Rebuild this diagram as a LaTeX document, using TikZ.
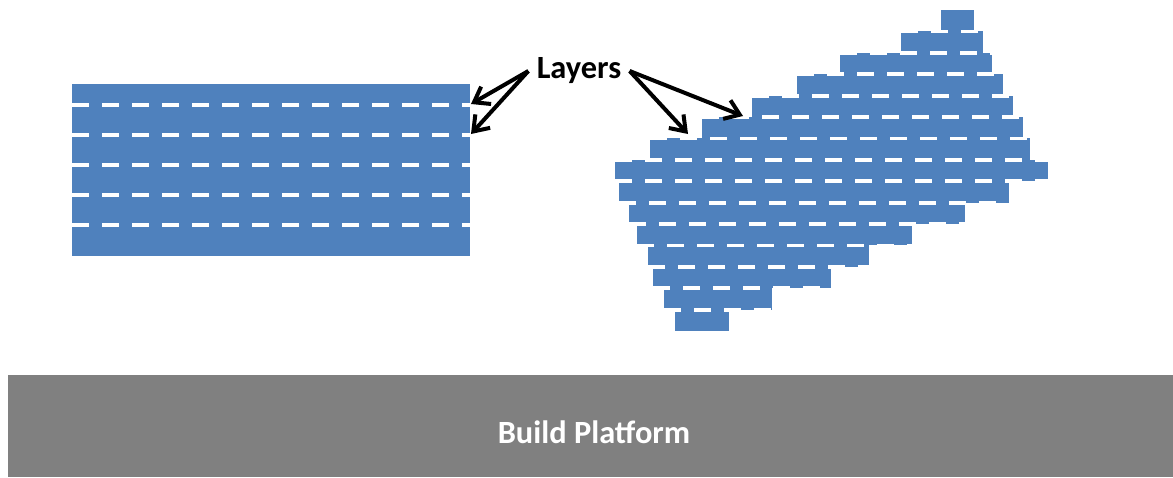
\documentclass[tikz,border=0pt]{standalone}
\usepackage{fontspec}
\setmainfont{Carlito}
\usetikzlibrary{arrows.meta}
\definecolor{layerblue}{HTML}{4F81BD}
\definecolor{platgray}{HTML}{808080}
\tikzset{
  layerline/.style={white, line width=1.9pt, dash pattern=on 8.5pt off 6.5pt},
  pointer/.style={-{Straight Barb[length=7pt,width=10pt]}, line width=2pt},
  bigbold/.style={font=\bfseries\fontsize{16.2}{19}\selectfont}
}
\begin{document}
\begin{tikzpicture}[x=0.5pt,y=-0.5pt]
\useasboundingbox (0,0) rectangle (1173,477);

% build platform
\fill[platgray] (8,375) rectangle (1173,477);
\node[bigbold, white] (platform) at (594,432) {Build Platform};

% left part
\fill[layerblue] (72,84) rectangle (470,256);
\foreach \y in {105,135,165,195,225}
  \draw[layerline] (72,\y) -- (470,\y);

% right part, one bar per layer
\foreach \l/\r [count=\i from 0] in {941/974, 901/983, 840/992, 797/1003, 752/1013,
    702/1023, 650/1030, 615/1048, 619/1009, 629/965, 637/912, 648/869, 653/831,
    664/772, 675/729}
  \fill[layerblue] (\l,{10+21.4*\i}) rectangle (\r,{31.4+21.4*\i});
\foreach \l/\r [count=\i from 0, remember=\l as \pl (initially 941),
    remember=\r as \pr (initially 974)] in {941/974, 901/983, 840/992, 797/1003,
    752/1013, 702/1023, 650/1030, 615/1048, 619/1009, 629/965, 637/912, 648/869,
    653/831, 664/772, 675/729}{
  \pgfmathsetmacro\a{min(\l,\pl)}
  \pgfmathsetmacro\b{max(\r,\pr)}
  \ifnum\i>0 \draw[layerline] (\a,{10+21.4*\i}) -- (\b,{10+21.4*\i}); \fi
}

% label and arrows
\node[bigbold, inner sep=4pt] (layers) at (579,71) {Layers};
\coordinate (tipA) at (471,104);
\coordinate (tipB) at (471,134);
\coordinate (tipC) at (688,134);
\coordinate (tipD) at (743,116);
\draw[pointer] (layers.west) -- (tipA);
\draw[pointer] (layers.west) -- (tipB);
\draw[pointer] (layers.east) -- (tipC);
\draw[pointer] (layers.east) -- (tipD);
\end{tikzpicture}
\end{document}
